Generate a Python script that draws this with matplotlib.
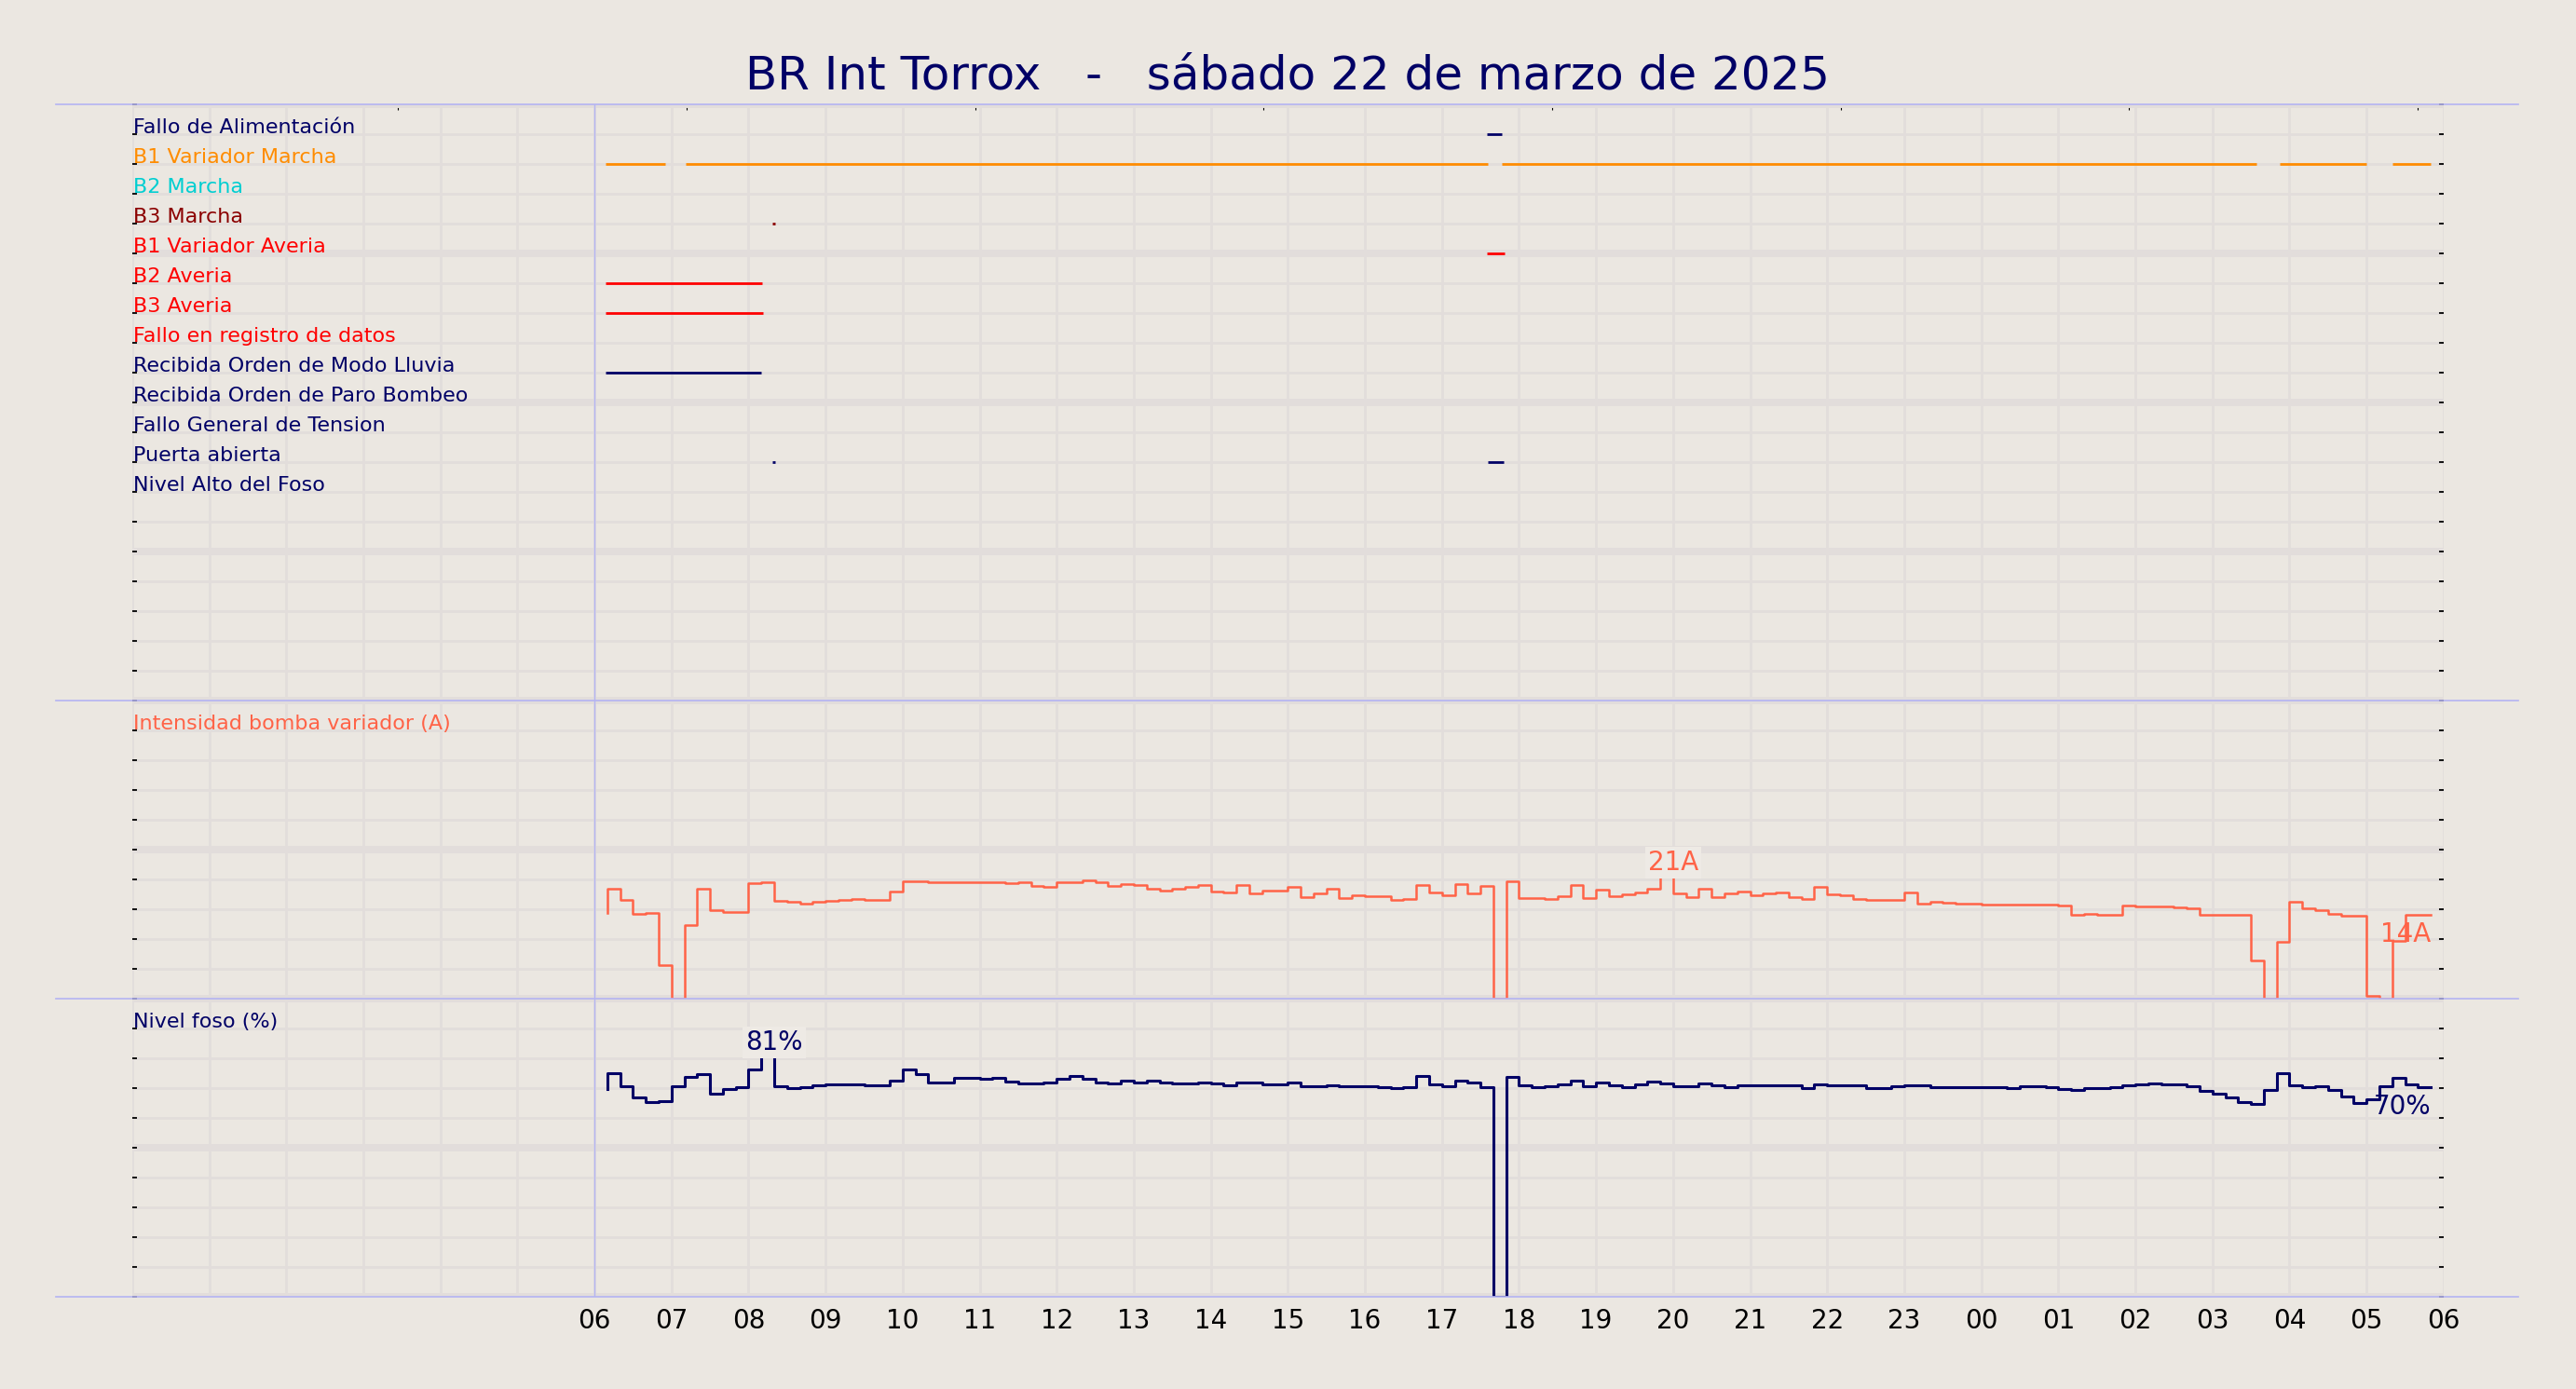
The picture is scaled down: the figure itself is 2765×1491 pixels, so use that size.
"""Daily pumping-station chart: digital signals, pump current and pit level."""

import matplotlib.pyplot as plt
import numpy as np
from matplotlib.lines import Line2D

OUT_PATH = "out.png"

TITLE = "BR Int Torrox   -   sábado 22 de marzo de 2025"

BG = "#ebe7e1"
GRID = "#e2dddb"
SEP = "#b4b4f2"
NAVY = "#000066"
TOMATO = "#ff6347"

# digital signals, top row first (row value = position on the 0..20 scale)
SIGNAL_LABELS = [
    "Fallo de Alimentación",
    "B1 Variador Marcha",
    "B2 Marcha",
    "B3 Marcha",
    "B1 Variador Averia",
    "B2 Averia",
    "B3 Averia",
    "Fallo en registro de datos",
    "Recibida Orden de Modo Lluvia",
    "Recibida Orden de Paro Bombeo",
    "Fallo General de Tension",
    "Puerta abierta",
    "Nivel Alto del Foso",
]
SIGNAL_COLORS = [
    NAVY, "darkorange", "darkturquoise", "darkred", "red", "red", "red",
    "red", NAVY, NAVY, NAVY, NAVY, NAVY,
]
# on-intervals in hours since 00:00 of the 22nd
SIGNAL_ON = [
    [(17.58, 17.78)],
    [(6.15, 6.92), (7.18, 17.59), (17.78, 27.57), (27.87, 29.0), (29.34, 29.83)],
    [],
    [(8.31, 8.35)],
    [(17.58, 17.81)],
    [(6.15, 8.17)],
    [(6.15, 8.19)],
    [],
    [(6.15, 8.16)],
    [],
    [],
    [(8.31, 8.35), (17.59, 17.80)],
    [],
]

# analog series, one sample every 10 minutes starting 06:10
SAMPLE_START_H = 6 + 10 / 60
SAMPLE_STEP_H = 10 / 60

CURRENT_A = [
    14.3, 18.4, 16.6, 14.2, 14.4, 5.7, 0.0, 12.4, 18.5, 14.8,
    14.6, 14.5, 19.3, 19.6, 16.4, 16.2, 16.0, 16.25, 16.35, 16.5,
    16.7, 16.6, 16.6, 17.9, 19.7, 19.7, 19.5, 19.5, 19.6, 19.5,
    19.5, 19.5, 19.3, 19.5, 18.9, 18.7, 19.6, 19.6, 19.8, 19.6,
    18.85, 19.2, 19.0, 18.4, 18.2, 18.4, 18.75, 19.1, 17.9, 17.75,
    19.05, 17.65, 18.2, 18.1, 18.75, 17.1, 17.65, 18.4, 16.8, 17.35,
    17.2, 17.2, 16.5, 16.7, 19.05, 17.8, 17.3, 19.2, 17.7, 18.9,
    0.0, 19.7, 16.9, 16.9, 16.75, 17.2, 19.1, 16.8, 18.3, 17.2,
    17.5, 17.85, 18.5, 20.6, 17.65, 17.1, 18.5, 17.0, 17.65, 17.9,
    17.3, 17.65, 17.8, 17.0, 16.7, 18.7, 17.5, 17.3, 16.7, 16.55,
    16.55, 16.55, 17.8, 15.9, 16.25, 16.1, 15.9, 15.9, 15.8, 15.8,
    15.8, 15.8, 15.8, 15.8, 15.6, 14.0, 14.2, 14.0, 14.0, 15.6,
    15.4, 15.4, 15.4, 15.25, 15.1, 14.0, 14.0, 14.0, 14.0, 6.4,
    0.0, 9.5, 16.2, 15.15, 14.8, 14.2, 13.95, 13.95, 0.5, 0.0,
    9.7, 14.0, 14.0,
]

LEVEL_PCT = [
    69.7, 74.9, 70.5, 66.9, 65.3, 65.5, 70.5, 73.6, 74.6, 68.0,
    69.6, 70.3, 76.3, 81.0, 70.7, 70.1, 70.4, 70.8, 71.1, 71.35,
    71.35, 70.9, 70.9, 72.6, 76.1, 74.8, 71.9, 71.9, 73.3, 73.3,
    73.0, 73.3, 72.3, 71.6, 71.6, 72.0, 73.2, 74.0, 73.1, 72.0,
    71.5, 72.4, 72.0, 72.5, 72.0, 71.6, 71.6, 72.0, 71.5, 70.8,
    71.8, 71.8, 71.25, 71.25, 71.8, 70.7, 70.7, 71.0, 70.7, 70.7,
    70.7, 70.4, 70.0, 70.4, 74.0, 71.1, 70.6, 72.4, 71.8, 70.4,
    0.0, 73.6, 70.8, 70.2, 70.5, 71.1, 72.4, 70.6, 71.8, 70.8,
    70.3, 71.35, 72.1, 71.5, 70.7, 70.7, 71.5, 70.8, 70.3, 71.0,
    71.0, 71.0, 71.0, 71.0, 70.0, 71.35, 70.9, 70.8, 70.8, 70.1,
    70.1, 70.5, 70.8, 70.8, 70.3, 70.3, 70.3, 70.3, 70.3, 70.3,
    69.9, 70.5, 70.5, 70.2, 69.8, 69.4, 69.9, 69.9, 70.2, 70.8,
    71.1, 71.5, 71.1, 71.1, 70.5, 69.0, 68.0, 66.8, 65.4, 64.6,
    69.4, 75.0, 70.9, 70.3, 70.6, 69.3, 67.2, 65.1, 66.4, 70.6,
    73.5, 71.25, 70.4,
]

HOUR_TICKS = list(range(6, 31))
HOUR_LABELS = [f"{h % 24:02d}" for h in HOUR_TICKS]

LABEL_SIZE = 16
VALUE_SIZE = 20


def style_panel(ax, top, major_step):
    """Background grid, inner y ticks and hour grid for one panel."""
    ax.set_facecolor(BG)
    ax.set_ylim(0, top)
    ax.set_xlim(0, 30)
    for spine in ax.spines.values():
        spine.set_visible(False)
    minor_step = top / (20 if top == 20 else 10)
    ax.set_yticks(np.arange(0, top + 0.01, major_step))
    ax.set_yticks(np.arange(0, top + 0.01, minor_step), minor=True)
    ax.set_xticks(range(0, 31), minor=True)
    ax.grid(which="major", axis="y", color=GRID, lw=5.7, zorder=0)
    ax.grid(which="minor", axis="y", color=GRID, lw=2.0, zorder=0)
    ax.grid(which="minor", axis="x", color=GRID, lw=2.0, zorder=0)
    ax.grid(which="major", axis="x", color=GRID, lw=2.0, zorder=0)
    ax.set_axisbelow(True)
    ax.tick_params(axis="y", which="both", direction="in", length=3.5, width=1.3,
                   left=True, right=True, labelleft=False, color="black")
    ax.tick_params(axis="x", which="both", length=0, pad=9, labelsize=20)
    ax.axvline(6, color=SEP, lw=1.0, zorder=1)


def main():
    fig, (ax_sig, ax_cur, ax_lvl) = plt.subplots(
        3, 1, figsize=(27.65, 14.91), dpi=100, sharex=True,
        gridspec_kw=dict(height_ratios=[2, 1, 1], hspace=0),
    )
    fig.patch.set_facecolor(BG)
    fig.subplots_adjust(left=0.0513, right=0.9486, top=0.9249, bottom=0.0664)

    style_panel(ax_sig, 20, 5)
    style_panel(ax_cur, 50, 25)
    style_panel(ax_lvl, 100, 50)
    ax_lvl.set_xticks(HOUR_TICKS, HOUR_LABELS)

    # digital signals
    for i, (label, color, spans) in enumerate(zip(SIGNAL_LABELS, SIGNAL_COLORS, SIGNAL_ON)):
        row = 19 - i
        ax_sig.text(0.02, row + 0.04, label, color=color, fontsize=LABEL_SIZE, va="baseline")
        for start, end in spans:
            ax_sig.hlines(row, start, end, color=color, lw=2.0, zorder=3)

    top = ax_sig.secondary_xaxis("top")
    top.set_xticks(np.arange(3.45, 30, 3.745))
    top.tick_params(direction="in", length=4.5, width=0.8, labeltop=False)
    top.spines["top"].set_visible(False)

    times = SAMPLE_START_H + SAMPLE_STEP_H * np.arange(len(CURRENT_A))

    # pump current
    ax_cur.plot(times, CURRENT_A, drawstyle="steps-pre", color=TOMATO, lw=1.8, zorder=3)
    ax_cur.text(0.02, 45 + 0.2, "Intensidad bomba variador (A)", color=TOMATO,
                fontsize=LABEL_SIZE, va="baseline")
    i_max = int(np.argmax(CURRENT_A))
    ax_cur.text(times[i_max], CURRENT_A[i_max], f"{round(CURRENT_A[i_max])}A", color=TOMATO,
                fontsize=VALUE_SIZE, ha="center", va="bottom", zorder=4,
                bbox=dict(boxstyle="square,pad=0.1", fc="#eeeae5", ec="none"))
    ax_cur.annotate(f"{round(CURRENT_A[-1])}A", (times[-1], CURRENT_A[-1]),
                    xytext=(0, -5), textcoords="offset points", color=TOMATO,
                    fontsize=VALUE_SIZE, ha="right", va="top", zorder=2)

    # pit level
    ax_lvl.plot(times, LEVEL_PCT, drawstyle="steps-pre", color=NAVY, lw=2.2, zorder=3)
    ax_lvl.text(0.02, 90 + 0.4, "Nivel foso (%)", color=NAVY, fontsize=LABEL_SIZE,
                va="baseline")
    i_max = int(np.argmax(LEVEL_PCT))
    ax_lvl.text(times[i_max], LEVEL_PCT[i_max], f"{round(LEVEL_PCT[i_max])}%", color=NAVY,
                fontsize=VALUE_SIZE, ha="center", va="bottom", zorder=4,
                bbox=dict(boxstyle="square,pad=0.1", fc="#eeeae5", ec="none"))
    ax_lvl.annotate(f"{round(LEVEL_PCT[-1])}%", (times[-1], LEVEL_PCT[-1]),
                    xytext=(0, -5), textcoords="offset points", color=NAVY,
                    fontsize=VALUE_SIZE, ha="right", va="top", zorder=2)

    # separators running past the plot area
    edges = [ax_sig.get_position().y1, ax_sig.get_position().y0,
             ax_cur.get_position().y0, ax_lvl.get_position().y0]
    for y in edges:
        fig.add_artist(Line2D([0.0217, 0.9776], [y, y], transform=fig.transFigure,
                              color=SEP, lw=1.2))

    fig.text(0.5, 1 - 96 / 1491, TITLE, ha="center", va="baseline", fontsize=36, color=NAVY)

    fig.savefig(OUT_PATH, dpi=100, facecolor=BG)
    plt.close(fig)


if __name__ == "__main__":
    main()
